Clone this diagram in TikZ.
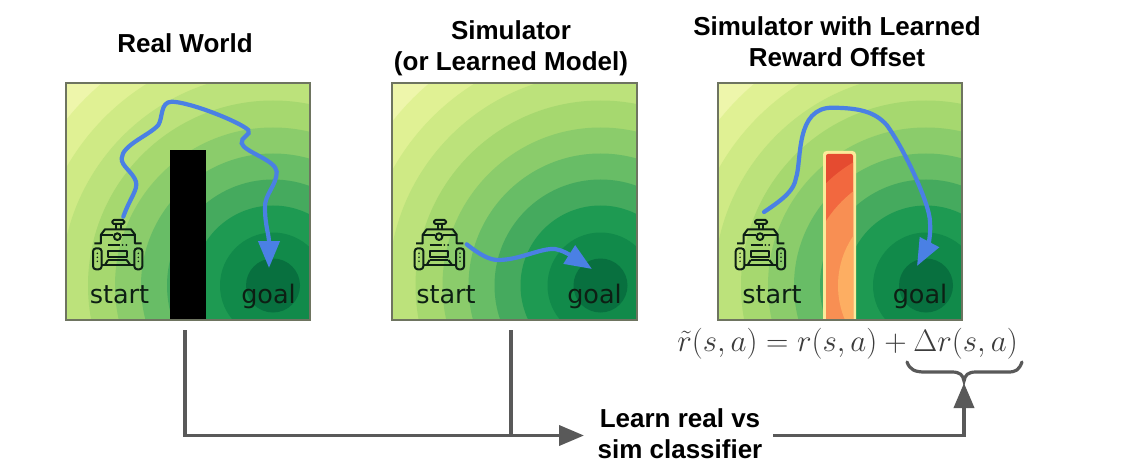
\documentclass[tikz,border=0pt]{standalone}
\usepackage{fontspec}
\setmainfont{Liberation Sans}
\newfontfamily\dejavu{DejaVu Sans}
\usetikzlibrary{arrows.meta}
\definecolor{bandA}{HTML}{08703F}
\definecolor{bandB}{HTML}{118A4A}
\definecolor{bandC}{HTML}{1E9A52}
\definecolor{bandD}{HTML}{45AA5E}
\definecolor{bandE}{HTML}{68BD66}
\definecolor{bandF}{HTML}{8BCC6B}
\definecolor{bandG}{HTML}{A6D86F}
\definecolor{bandH}{HTML}{BCE27B}
\definecolor{bandI}{HTML}{CFEA85}
\definecolor{bandJ}{HTML}{E0F194}
\definecolor{bandK}{HTML}{EEF6AB}
\definecolor{frameC}{HTML}{6E7460}
\definecolor{pathC}{HTML}{4A80E4}
\definecolor{connC}{HTML}{595959}
\definecolor{inkC}{HTML}{0D1F14}
\definecolor{mathC}{HTML}{3C3C3C}
\definecolor{hotA}{HTML}{E54B30}
\definecolor{hotB}{HTML}{F2683F}
\definecolor{hotC}{HTML}{F88F53}
\definecolor{hotD}{HTML}{FDAE62}
\definecolor{hotEdge}{HTML}{FBEA9A}
\newcommand{\greenbands}[2]{%
  \foreach \rr/\cc in {320/bandK,265/bandJ,238/bandI,212/bandH,185/bandG,158/bandF,132/bandE,106/bandD,80/bandC,53/bandB,27/bandA}
    {\fill[\cc] (#1,#2) circle[radius=\rr];}}
\newcommand{\robot}[2]{%
  \begin{scope}[shift={(#1,#2)},x=0.3333pt,y=-0.3333pt,draw=inkC,line width=2pt,line join=round]
    \draw[rounded corners=1.5pt] (82,30) rectangle (118,42);
    \draw (93,42) -- (93,58) (107,42) -- (107,58);
    \draw (28,100) -- (48,100) -- (48,74) -- (60,58) -- (138,58) -- (150,74) -- (150,100) -- (170,100);
    \draw (48,74) -- (85,74) (110,74) -- (150,74);
    \draw (97,80) circle[radius=10];
    \draw[rounded corners=3pt] (24,115) rectangle (50,178);
    \draw[rounded corners=3pt] (148,115) rectangle (172,178);
    \draw (69,122) rectangle (125,140);
    \draw (69,105) -- (105,105);
    \fill[inkC] (113,105) circle[radius=3] (124,105) circle[radius=3];
    \draw (50,165) -- (148,165) (69,150) -- (125,150);
    \draw (69,150) -- (60,165) (125,150) -- (136,165);
    \fill[inkC] (37,130) circle[radius=2.6] (37,142) circle[radius=2.6] (37,154) circle[radius=2.6]
                (160,130) circle[radius=2.6] (160,142) circle[radius=2.6] (160,154) circle[radius=2.6];
  \end{scope}}
\tikzset{
  frameline/.style={draw=frameC,line width=1.4pt},
  route/.style={draw=pathC,line width=4.2pt,line cap=round,-{Triangle[width=21pt,length=27pt]}},
  conn/.style={draw=connC,line width=3.8pt},
  connarrow/.style={conn,-{Triangle[width=20pt,length=25pt]}},
  bracelook/.style={draw=connC,line width=3.2pt,line cap=round},
  titletext/.style={font=\fontsize{26}{31}\selectfont\bfseries,align=center,text=black,inner sep=0pt},
  worldtext/.style={font=\dejavu\fontsize{25.5}{30}\selectfont,text=inkC,inner sep=0pt,anchor=base},
}
\begin{document}
\begin{tikzpicture}[x=1pt,y=-1pt]
\useasboundingbox (0,0) rectangle (1136,468);
\fill[white] (0,0) rectangle (1136,468);
% panel A
\begin{scope}
  \clip (66,83) rectangle (310,320);
  \greenbands{273}{285.5}
  \fill[black] (169.5,150) rectangle (205.5,320);
\end{scope}
\draw[frameline] (66,83) rectangle (310,320);
% panel B
\begin{scope}
  \clip (392,83) rectangle (637,320);
  \greenbands{600.5}{285.5}
\end{scope}
\draw[frameline] (392,83) rectangle (637,320);
% panel C
\begin{scope}
  \clip (718,83) rectangle (962,320);
  \greenbands{926}{285.5}
  \fill[hotEdge,rounded corners=3.5pt] (823,151) rectangle (856,335);
  \begin{scope}
    \clip[rounded corners=2pt] (826,154) rectangle (853,335);
    \fill[hotA] (824,150) rectangle (855,320);
    \fill[hotB] (926,285.5) circle[radius=143];
    \fill[hotC] (926,285.5) circle[radius=119];
    \fill[hotD] (926,285.5) circle[radius=88];
  \end{scope}
\end{scope}
\draw[frameline] (718,83) rectangle (962,320);
% robots
\robot{85}{210}
\robot{406.7}{210}
\robot{727.7}{210}
% world labels
\node[worldtext] (startA) at (119.5,303) {start};
\node[worldtext] (goalA) at (268.5,303) {goal};
\node[worldtext] (startB) at (446,303) {start};
\node[worldtext] (goalB) at (594.5,303) {goal};
\node[worldtext] (startC) at (772,303) {start};
\node[worldtext] (goalC) at (920,303) {goal};
% routes
\draw[route] (123.3,216.7) .. controls (130,198) and (138,190) .. (136,181.7)
  .. controls (133,172) and (121,166) .. (121.7,158.3)
  .. controls (122,145) and (150,135) .. (158.3,125)
  .. controls (163,118) and (160,102) .. (171.7,101.7)
  .. controls (190,102) and (240,122) .. (248.3,130)
  .. controls (252,135) and (240,137) .. (241.7,143.3)
  .. controls (244,152) and (276,160) .. (276.7,171.7)
  .. controls (277,185) and (264,195) .. (265,208)
  .. controls (265,225) and (269,235) .. (269,268);
\draw[route] (466.7,244.3) .. controls (480,255) and (490,260) .. (498,260)
  .. controls (520,260) and (540,248) .. (555,249)
  .. controls (562,250) and (570,255) .. (592,269);
\draw[route] (764,212) .. controls (785,198) and (794,190) .. (796,178)
  .. controls (802,160) and (795,107) .. (833,107.7)
  .. controls (860,108) and (875,112) .. (886.7,125)
  .. controls (905,150) and (930,205) .. (930,222)
  .. controls (931,235) and (928,245) .. (917,266);
% titles
\node[titletext] (titleA) at (185,43) {Real World};
\node[titletext] (titleB) at (511,48) {Simulator\\(or Learned Model)};
\node[titletext] (titleC) at (837,42) {Simulator with Learned\\Reward Offset};
% equation
\node[inner sep=0pt,text=mathC,font=\fontsize{24}{28}\selectfont] (eqn) at (847.5,344)
  {\scalebox{1.246}{$\tilde{r}(s,a) = r(s,a) + \Delta r(s,a)$}};
% classifier
\node[titletext] (clf) at (680,434) {Learn real vs\\sim classifier};
% connectors
\coordinate (realEnd) at (185,330);
\coordinate (simEnd) at (511,330);
\coordinate (corner) at (185,435.5);
\coordinate (simJoin) at (511,435.5);
\coordinate (clfIn) at (584,435.5);
\coordinate (clfOut) at (773,435.5);
\coordinate (riser) at (964,435.5);
\coordinate (braceTip) at (964,383);
\draw[conn] (realEnd) -- (corner) -- (simJoin);
\draw[conn] (simEnd) -- (simJoin);
\draw[connarrow] (simJoin) -- (clfIn);
\draw[connarrow] (clfOut) -- (riser) -- (braceTip);
% brace
\draw[bracelook] (907,362) .. controls (910,370) and (915,372) .. (925,372)
  -- (952,372) .. controls (960,372) and (963,375) .. (964,381)
  .. controls (965,375) and (968,372) .. (976,372)
  -- (1008,372) .. controls (1016,372) and (1019,370) .. (1022,362);
\end{tikzpicture}
\end{document}
